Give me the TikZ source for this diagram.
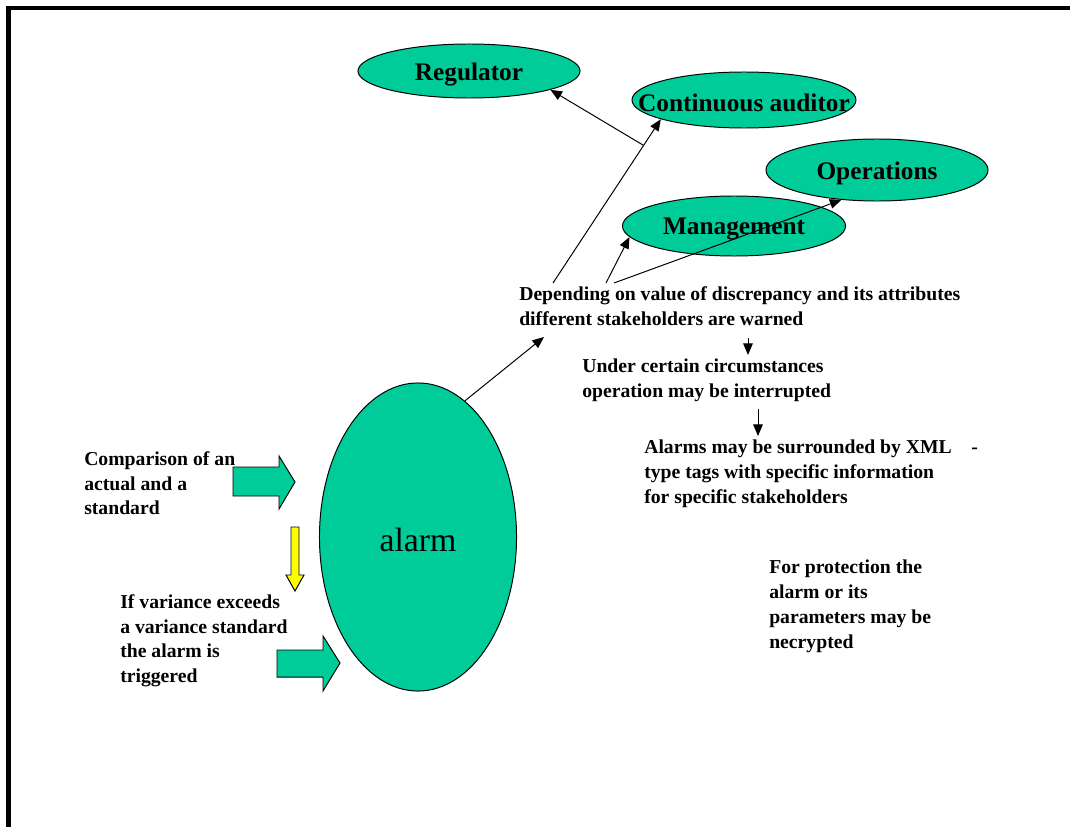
\documentclass[tikz,border=0pt]{standalone}
\usepackage{fontspec}
\setmainfont{Liberation Serif}
\usepackage{tikz}
\usetikzlibrary{shapes.geometric, arrows.meta, calc}
\definecolor{alarmgreen}{HTML}{00CC99}
\definecolor{trigyellow}{HTML}{FFFF00}

\begin{document}
\begin{tikzpicture}[
    x=0.025cm, y=-0.025cm,
    stake/.style={ellipse, draw=black, fill=alarmgreen, inner sep=0pt, line width=0.7pt},
    stakelabel/.style={font=\fontsize{18}{21}\selectfont\bfseries, yshift=-2.2pt},
    note/.style={anchor=north west, inner sep=0pt, align=left, font=\fontsize{14}{17.7}\selectfont\bfseries},
    conn/.style={-{Triangle[length=2.9mm, width=2.4mm]}, line width=0.7pt},
    blockarrow/.style={draw=black, line width=0.7pt, line join=miter}
]
\useasboundingbox (0,0) rectangle (1070,827);

% Slide frame
\draw[line width=3.5pt] (8.5,827) -- (8.5,8) -- (1070,8);

% Stakeholders
\node[stake, minimum width=5.55cm, minimum height=1.35cm, label={[stakelabel]center:Regulator}] (regulator) at (469,71) {};
\node[stake, minimum width=5.6cm, minimum height=1.4cm, label={[stakelabel]center:Continuous auditor}] (auditor) at (744,100) {};
\node[stake, minimum width=5.55cm, minimum height=1.55cm, label={[stakelabel]center:Operations}] (operations) at (877,170) {};
\node[stake, minimum width=5.575cm, minimum height=1.5cm, label={[stakelabel]center:Management}] (management) at (734,226) {};

% The alarm itself
\node[stake, minimum width=4.925cm, minimum height=7.7cm, label={[font=\fontsize{24}{28}\selectfont, yshift=-0.08cm]center:alarm}] (alarm) at (418,537) {};

% Notes
\node[note] (warned) at (519,286) {Depending on value of discrepancy and its attributes\\different stakeholders are warned};
\node[note] (interrupt) at (582,359) {Under certain circumstances\\operation may be interrupted};
\node[note] (xmltags) at (644,440) {Alarms may be surrounded by XML\hspace{14pt}-\\type tags with specific information\\for specific stakeholders};
\node[note] (protect) at (769,560) {For protection the\\alarm or its\\parameters may be\\necrypted};
\node[note] (compare) at (84,451) {Comparison of an\\actual and a\\standard};
\node[note] (variance) at (120,594) {If variance exceeds\\a variance standard\\the alarm is\\triggered};

% Block arrows into the alarm
\draw[blockarrow, fill=alarmgreen] (233,467) -- (279,467) -- (279,456) -- (295,482) -- (279,509) -- (279,496) -- (233,496) -- cycle;
\draw[blockarrow, fill=alarmgreen] (277,650) -- (323,650) -- (323,636) -- (340,663) -- (323,691) -- (323,677) -- (277,677) -- cycle;
\draw[blockarrow, fill=trigyellow] (291,527) -- (299,527) -- (299,575) -- (304,575) -- (295,591) -- (286,575) -- (291,575) -- cycle;

% Warning paths
\coordinate (warnin) at (544,337);
\coordinate (fanA) at (553,283);
\coordinate (fanB) at (606,283);
\coordinate (fanC) at (614,283);
\draw[conn] (alarm.71) -- (warnin);
\draw[conn] (fanA) -- (auditor.193);
\draw[conn] ($(fanA)!0.84!(auditor.193)$) -- (regulator.347);
\draw[conn] (fanB) -- (management.186);
\draw[conn] (fanC) -- (operations.220);

% Down the chain
\coordinate (stepA) at (748,338);
\coordinate (stepB) at (748,355);
\coordinate (stepC) at (758,409);
\coordinate (stepD) at (758,436);
\draw[conn] (stepA) -- (stepB);
\draw[conn] (stepC) -- (stepD);

\end{tikzpicture}
\end{document}
